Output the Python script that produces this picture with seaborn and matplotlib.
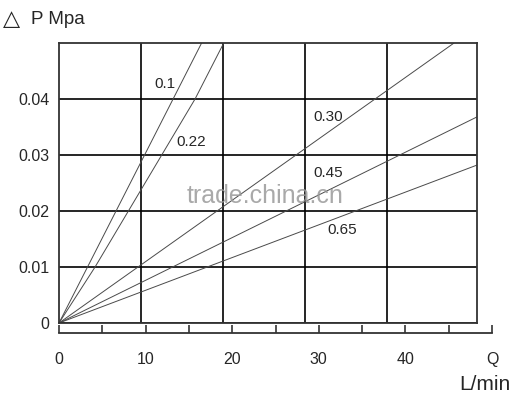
import pandas as pd
import seaborn as sns
import matplotlib
matplotlib.use('Agg')
import matplotlib.pyplot as plt

sns.set_style('white')
plt.rcParams['font.family'] = ['Liberation Sans', 'DejaVu Sans']

# curves of the chart, Q in L/min, P in MPa
curve_names = ['0.1', '0.22', '0.30', '0.45', '0.65']
q_01 = [0, 17.4]
p_01 = [0, 0.05]
q_022 = [0, 4.4, 16.6, 20.1]
p_022 = [0, 0.01, 0.04, 0.05]
q_030 = [0, 48.2]
p_030 = [0, 0.05]
q_045 = [0, 51]
p_045 = [0, 0.0368]
q_065 = [0, 51]
p_065 = [0, 0.0282]

# label spots for each curve
label_q = [12.9, 16.1, 32.8, 32.8, 34.6]
label_p = [0.0427, 0.0323, 0.0368, 0.0268, 0.0166]

y_ticks = [0, 0.01, 0.02, 0.03, 0.04]
y_ticklabels = ['0', '0.01', '0.02', '0.03', '0.04']
ruler_ticks = [0, 5, 10, 15, 20, 25, 30, 35, 40, 45, 50]
ruler_labels = ['0', '', '10', '', '20', '', '30', '', '40', '', 'Q']

rows = []
for name, qs, ps in zip(curve_names,
                        [q_01, q_022, q_030, q_045, q_065],
                        [p_01, p_022, p_030, p_045, p_065]):
    for q, p in zip(qs, ps):
        rows.append({'Q': q, 'P': p, 'curve': name})
df = pd.DataFrame(rows)

fig = plt.figure(figsize=(5.22, 4.01), dpi=100)
ax = fig.add_axes([59 / 522, 78 / 401, 418 / 522, 280 / 401])

sns.lineplot(data=df, x='Q', y='P', units='curve', estimator=None,
             color='#4a4a4a', linewidth=0.7, ax=ax, sort=False)

ax.set_xlim(0, 51)
ax.set_ylim(0, 0.05)
ax.set_xticks([10, 20, 30, 40])
ax.set_xticklabels([])
ax.set_yticks(y_ticks)
ax.set_yticklabels(y_ticklabels)
ax.tick_params(axis='both', length=0)
ax.tick_params(axis='y', labelsize=11.5, pad=7)
ax.grid(True, color='black', linewidth=1.2)
for s in ax.spines.values():
    s.set_visible(True)
    s.set_color('#333333')
    s.set_linewidth(1.3)
ax.set_xlabel('')
ax.set_ylabel('')

for name, lq, lp in zip(curve_names, label_q, label_p):
    ax.text(lq, lp, name, fontsize=11, ha='center', va='center')

# watermark
ax.text(25.1, 0.0214, 'trade.china.cn', fontsize=18, color='#9a9a9a',
        ha='center', va='baseline', alpha=0.85)

# ruler below the grid
rax = fig.add_axes([59 / 522, 68 / 401, 433 / 522, 0.001])
rax.set_xlim(0, 50)
rax.set_ylim(0, 1)
rax.set_yticks([])
rax.set_xticks(ruler_ticks)
rax.set_xticklabels(ruler_labels)
rax.tick_params(axis='x', bottom=True, direction='in', length=6, width=1.2,
                color='#333333', labelsize=11.5, pad=14)
for k in ['top', 'left', 'right']:
    rax.spines[k].set_visible(False)
rax.spines['bottom'].set_color('#333333')
rax.spines['bottom'].set_linewidth(1.3)
rax.patch.set_visible(False)

fig.text(3 / 522, 1 - 20 / 401, '△', fontsize=16, va='center')
fig.text(31 / 522, 1 - 20 / 401, 'P Mpa', fontsize=13.5, va='center')
fig.text(485 / 522, 1 - 385 / 401, 'L/min', fontsize=15, va='center', ha='center')

fig.savefig('out.png', dpi=100)
